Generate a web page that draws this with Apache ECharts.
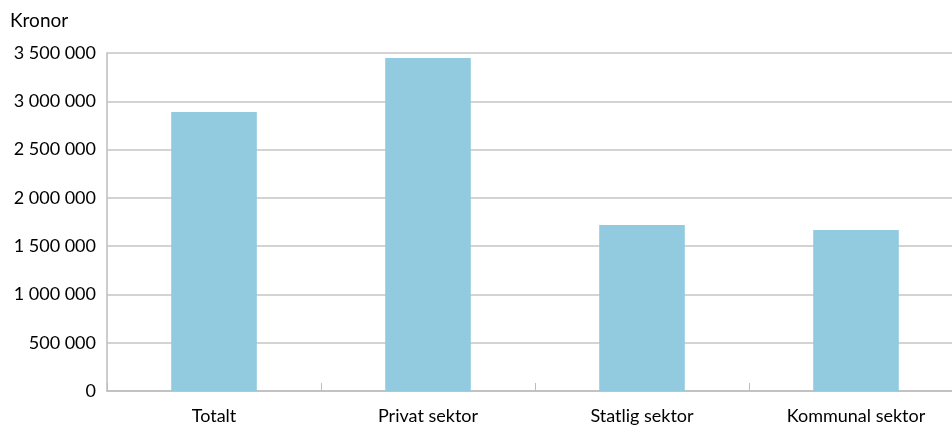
<!DOCTYPE html>
<html>
<head>
<meta charset="utf-8">
<script src="https://cdn.jsdelivr.net/npm/echarts@6/dist/echarts.min.js"></script>
<style>
  html, body { margin: 0; padding: 0; background: #fff; }
  #chart { width: 952px; height: 425px; }
</style>
</head>
<body>
<div id="chart"></div>
<script>
var categories = ['Totalt', 'Privat sektor', 'Statlig sektor', 'Kommunal sektor'];
var kronor = [2890000, 3448000, 1719000, 1667000];
var yTicks = { min: 0, max: 3500000, interval: 500000 };

function fmt(v) {
  return String(v).replace(/\B(?=(\d{3})+(?!\d))/g, ' ');
}

var myChart = echarts.init(document.getElementById('chart'));
var option = {
  animation: false,
  textStyle: { fontFamily: 'Lato', color: '#000' },
  title: {
    text: 'Kronor',
    left: 5,
    top: 6,
    textStyle: { fontFamily: 'Lato', fontSize: 19, fontWeight: 'normal', color: '#000' }
  },
  // plot runs past the right edge of the picture
  grid: { left: 107, width: 856, top: 53, height: 338, outerBoundsMode: 'none', containLabel: false },
  xAxis: {
    type: 'category',
    data: categories,
    axisLine: { lineStyle: { color: '#bdbdbd', width: 1.5 } },
    axisTick: { show: true, inside: true, length: 8, lineStyle: { color: '#bdbdbd' } },
    axisLabel: { fontSize: 18, color: '#000', margin: 16, fontFamily: 'Lato' }
  },
  yAxis: {
    type: 'value',
    min: yTicks.min,
    max: yTicks.max,
    interval: yTicks.interval,
    axisLine: { show: true, lineStyle: { color: '#bdbdbd', width: 1.5 } },
    axisTick: { show: false },
    splitLine: { lineStyle: { color: '#c4c4c4', width: 1.5 } },
    axisLabel: { fontSize: 18, color: '#000', margin: 11, fontFamily: 'Lato', formatter: fmt }
  },
  series: [{
    type: 'bar',
    data: kronor,
    barWidth: '40%',
    itemStyle: { color: '#92cbdf' }
  }]
};
myChart.setOption(option);
</script>
</body>
</html>
